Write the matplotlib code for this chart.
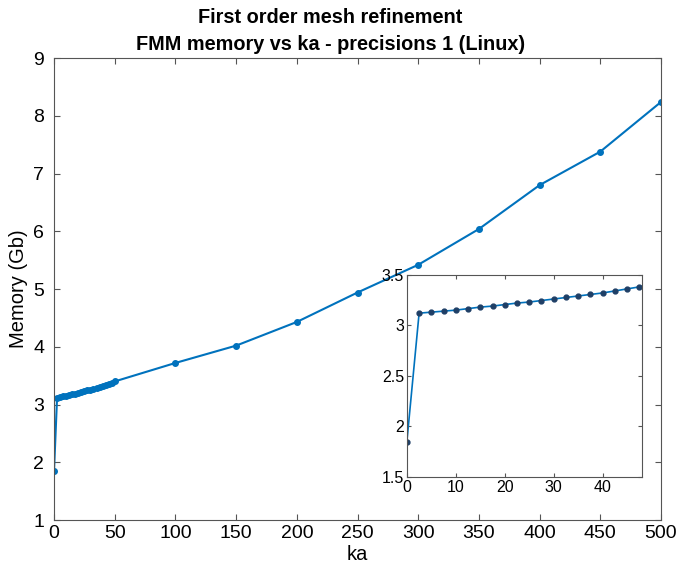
import numpy as np
import matplotlib
matplotlib.use("Agg")
import matplotlib.pyplot as plt

plt.rcParams['font.family'] = ['Liberation Sans', 'DejaVu Sans']

# ka values and FMM memory (Gb)
ka_small = [0, 2.5, 5, 7.5, 10, 12.5, 15, 17.5, 20, 22.5, 25, 27.5, 30,
            32.5, 35, 37.5, 40, 42.5, 45, 47.5, 50]
mem_small = [1.85, 3.12, 3.13, 3.14, 3.15, 3.165, 3.18, 3.19, 3.205, 3.22,
             3.23, 3.245, 3.26, 3.275, 3.29, 3.305, 3.32, 3.34, 3.36, 3.38, 3.40]
ka_large = [100, 150, 200, 250, 300, 350, 400, 450, 500]
mem_large = [3.72, 4.02, 4.43, 4.94, 5.42, 6.04, 6.80, 7.38, 8.24]

ka = ka_small + ka_large
mem = mem_small + mem_large

blue = (0, 0.447, 0.741)

fig = plt.figure(figsize=(6.77, 5.76), dpi=100)
ax = fig.add_axes([0.0798, 0.0972, 0.8966, 0.802])
ax.plot(ka, mem, color=blue, lw=1.5, marker='o', ms=4)
ax.set_xlim(0, 500)
ax.set_ylim(1, 9)
ax.set_xticks(np.arange(0, 501, 50))
ax.set_yticks(np.arange(1, 10, 1))
ax.tick_params(direction='in', top=True, right=True, labelsize=14, length=4,
               color='#555555')
ax.tick_params(axis='y', pad=7)
for s in ax.spines.values():
    s.set_color('#555555')
ax.set_xlabel('ka', fontsize=14.5, labelpad=2)
ax.set_ylabel('Memory (Gb)', fontsize=14.5)
ax.set_title('First order mesh refinement\nFMM memory vs ka - precisions 1 (Linux)',
             fontsize=14.3, fontweight='bold', linespacing=1.5, pad=6, x=0.455)

# inset zoom on small ka
axi = fig.add_axes([0.601, 0.172, 0.347, 0.351])
axi.plot(ka_small, mem_small, color=blue, lw=1.2, marker='o', ms=3.5,
         markerfacecolor='#1f3f66', markeredgecolor='#1f3f66')
axi.set_xlim(0, 48)
axi.set_ylim(1.5, 3.5)
axi.set_xticks([0, 10, 20, 30, 40])
axi.set_yticks([1.5, 2, 2.5, 3, 3.5])
axi.set_yticklabels(['1.5', '2', '2.5', '3', '3.5'])
axi.tick_params(direction='in', top=True, right=True, labelsize=11.5, length=3,
                color='#555555', pad=2)
for s in axi.spines.values():
    s.set_color('#555555')

plt.savefig('out.png')
